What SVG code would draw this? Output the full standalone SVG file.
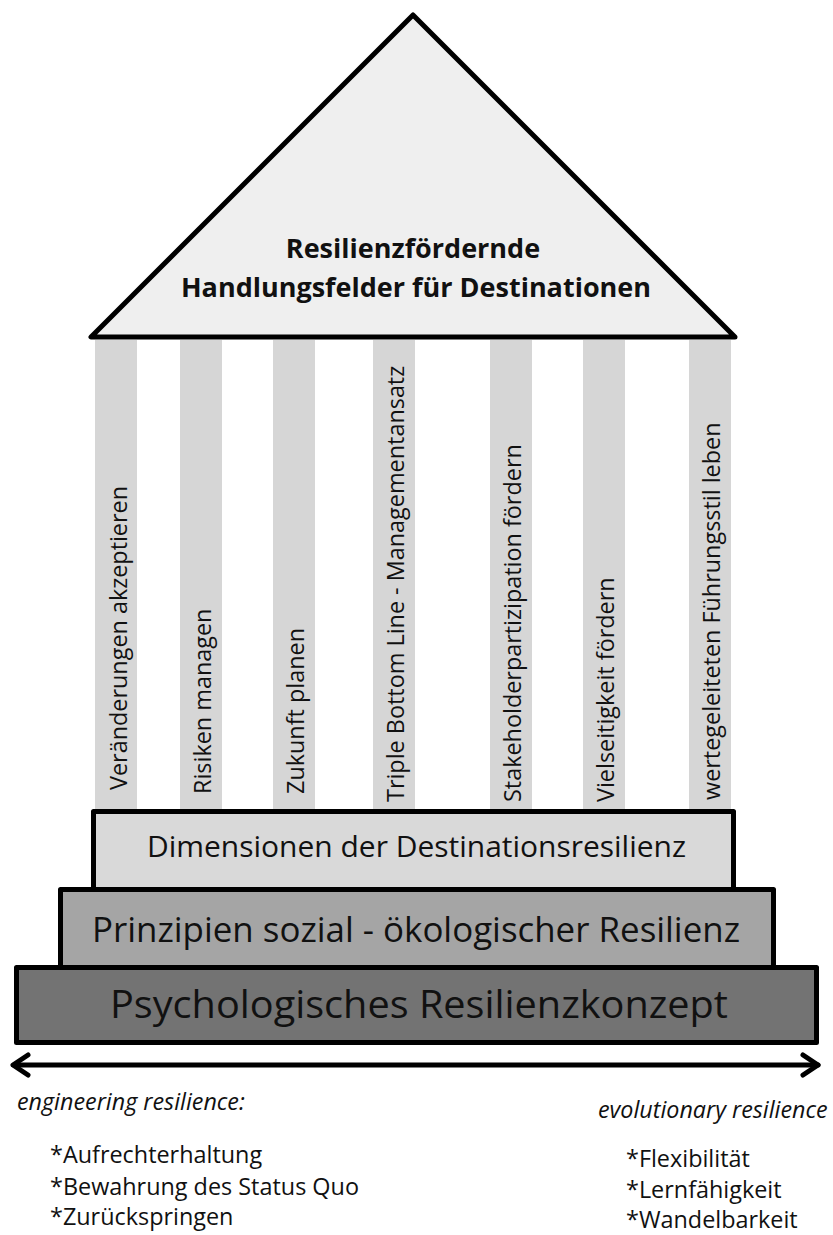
<svg xmlns="http://www.w3.org/2000/svg" width="833" height="1235" viewBox="0 0 833 1235">
  <style>
    .t { font-family: "Open Sans", "Noto Sans", "DejaVu Sans", sans-serif; fill: #111; }
    .pillar { fill: #d6d6d6; }
    .ptxt { font-family: "Open Sans", "Noto Sans", sans-serif; font-size: 23.4px; fill: #111; }
    .box { stroke: #000; stroke-width: 5; stroke-linejoin: round; }
    .small { font-size: 23.4px; }
    .it { font-style: italic; font-size: 23.3px; }
    .conn { stroke: #000; stroke-width: 5; fill: none; stroke-linecap: round; stroke-linejoin: round; }
  </style>
  <rect width="833" height="1235" fill="#ffffff"/>

  <g id="pillars">
    <g id="pillar1">
      <rect class="pillar" x="95" y="340" width="42" height="469"/>
      <text class="ptxt" transform="translate(126.5,790) rotate(-90)">Veränderungen akzeptieren</text>
    </g>
    <g id="pillar2">
      <rect class="pillar" x="180" y="340" width="42" height="469"/>
      <text class="ptxt" transform="translate(210.5,794) rotate(-90)">Risiken managen</text>
    </g>
    <g id="pillar3">
      <rect class="pillar" x="273" y="340" width="42" height="469"/>
      <text class="ptxt" transform="translate(303.5,794) rotate(-90)">Zukunft planen</text>
    </g>
    <g id="pillar4">
      <rect class="pillar" x="373" y="340" width="42" height="469"/>
      <text class="ptxt" transform="translate(403.5,802) rotate(-90)">Triple Bottom Line - Managementansatz</text>
    </g>
    <g id="pillar5">
      <rect class="pillar" x="490" y="340" width="42" height="469"/>
      <text class="ptxt" transform="translate(520.5,802) rotate(-90)">Stakeholderpartizipation fördern</text>
    </g>
    <g id="pillar6">
      <rect class="pillar" x="583" y="340" width="42" height="469"/>
      <text class="ptxt" transform="translate(613.5,802) rotate(-90)">Vielseitigkeit fördern</text>
    </g>
    <g id="pillar7">
      <rect class="pillar" x="689" y="340" width="42" height="469"/>
      <text class="ptxt" transform="translate(720,800) rotate(-90)">wertegeleiteten Führungsstil leben</text>
    </g>
  </g>

  <g id="roof">
    <polygon points="413,15 91,337 735,337" fill="#efefef" stroke="#000" stroke-width="5" stroke-linejoin="round"/>
    <text class="t" x="413" y="258" text-anchor="middle" font-size="27" font-weight="bold">Resilienzfördernde</text>
    <text class="t" x="416" y="297" text-anchor="middle" font-size="27" font-weight="bold">Handlungsfelder für Destinationen</text>
  </g>

  <g id="psychologisch">
    <rect class="box" x="16.5" y="967.5" width="800" height="75" fill="#737373"/>
    <text class="t" x="419" y="1018" text-anchor="middle" font-size="38" textLength="618" lengthAdjust="spacingAndGlyphs">Psychologisches Resilienzkonzept</text>
  </g>
  <g id="prinzipien">
    <rect class="box" x="60.5" y="889.5" width="713" height="78" fill="#a5a5a5"/>
    <text class="t" x="416" y="942" text-anchor="middle" font-size="35" textLength="648" lengthAdjust="spacingAndGlyphs">Prinzipien sozial - ökologischer Resilienz</text>
  </g>
  <g id="dimensionen">
    <rect class="box" x="93.5" y="811.5" width="640" height="78" fill="#d9d9d9"/>
    <text class="t" x="416.5" y="857" text-anchor="middle" font-size="30" textLength="539" lengthAdjust="spacingAndGlyphs">Dimensionen der Destinationsresilienz</text>
  </g>

  <g id="connectors">
    <line class="conn" x1="14" y1="1065" x2="818" y2="1065"/>
    <polyline class="conn" points="28,1055 13,1065 28,1075"/>
    <polyline class="conn" points="803,1055 818,1065 803,1075"/>
  </g>

  <g id="engineering">
    <text class="t it" x="17" y="1110">engineering resilience:</text>
    <text class="t small" x="50" y="1163">*Aufrechterhaltung</text>
    <text class="t small" x="50" y="1195">*Bewahrung des Status Quo</text>
    <text class="t small" x="50" y="1225">*Zurückspringen</text>
  </g>
  <g id="evolutionary">
    <text class="t it" x="598" y="1118">evolutionary resilience</text>
    <text class="t small" x="626" y="1167">*Flexibilität</text>
    <text class="t small" x="626" y="1198">*Lernfähigkeit</text>
    <text class="t small" x="626" y="1228">*Wandelbarkeit</text>
  </g>
</svg>
